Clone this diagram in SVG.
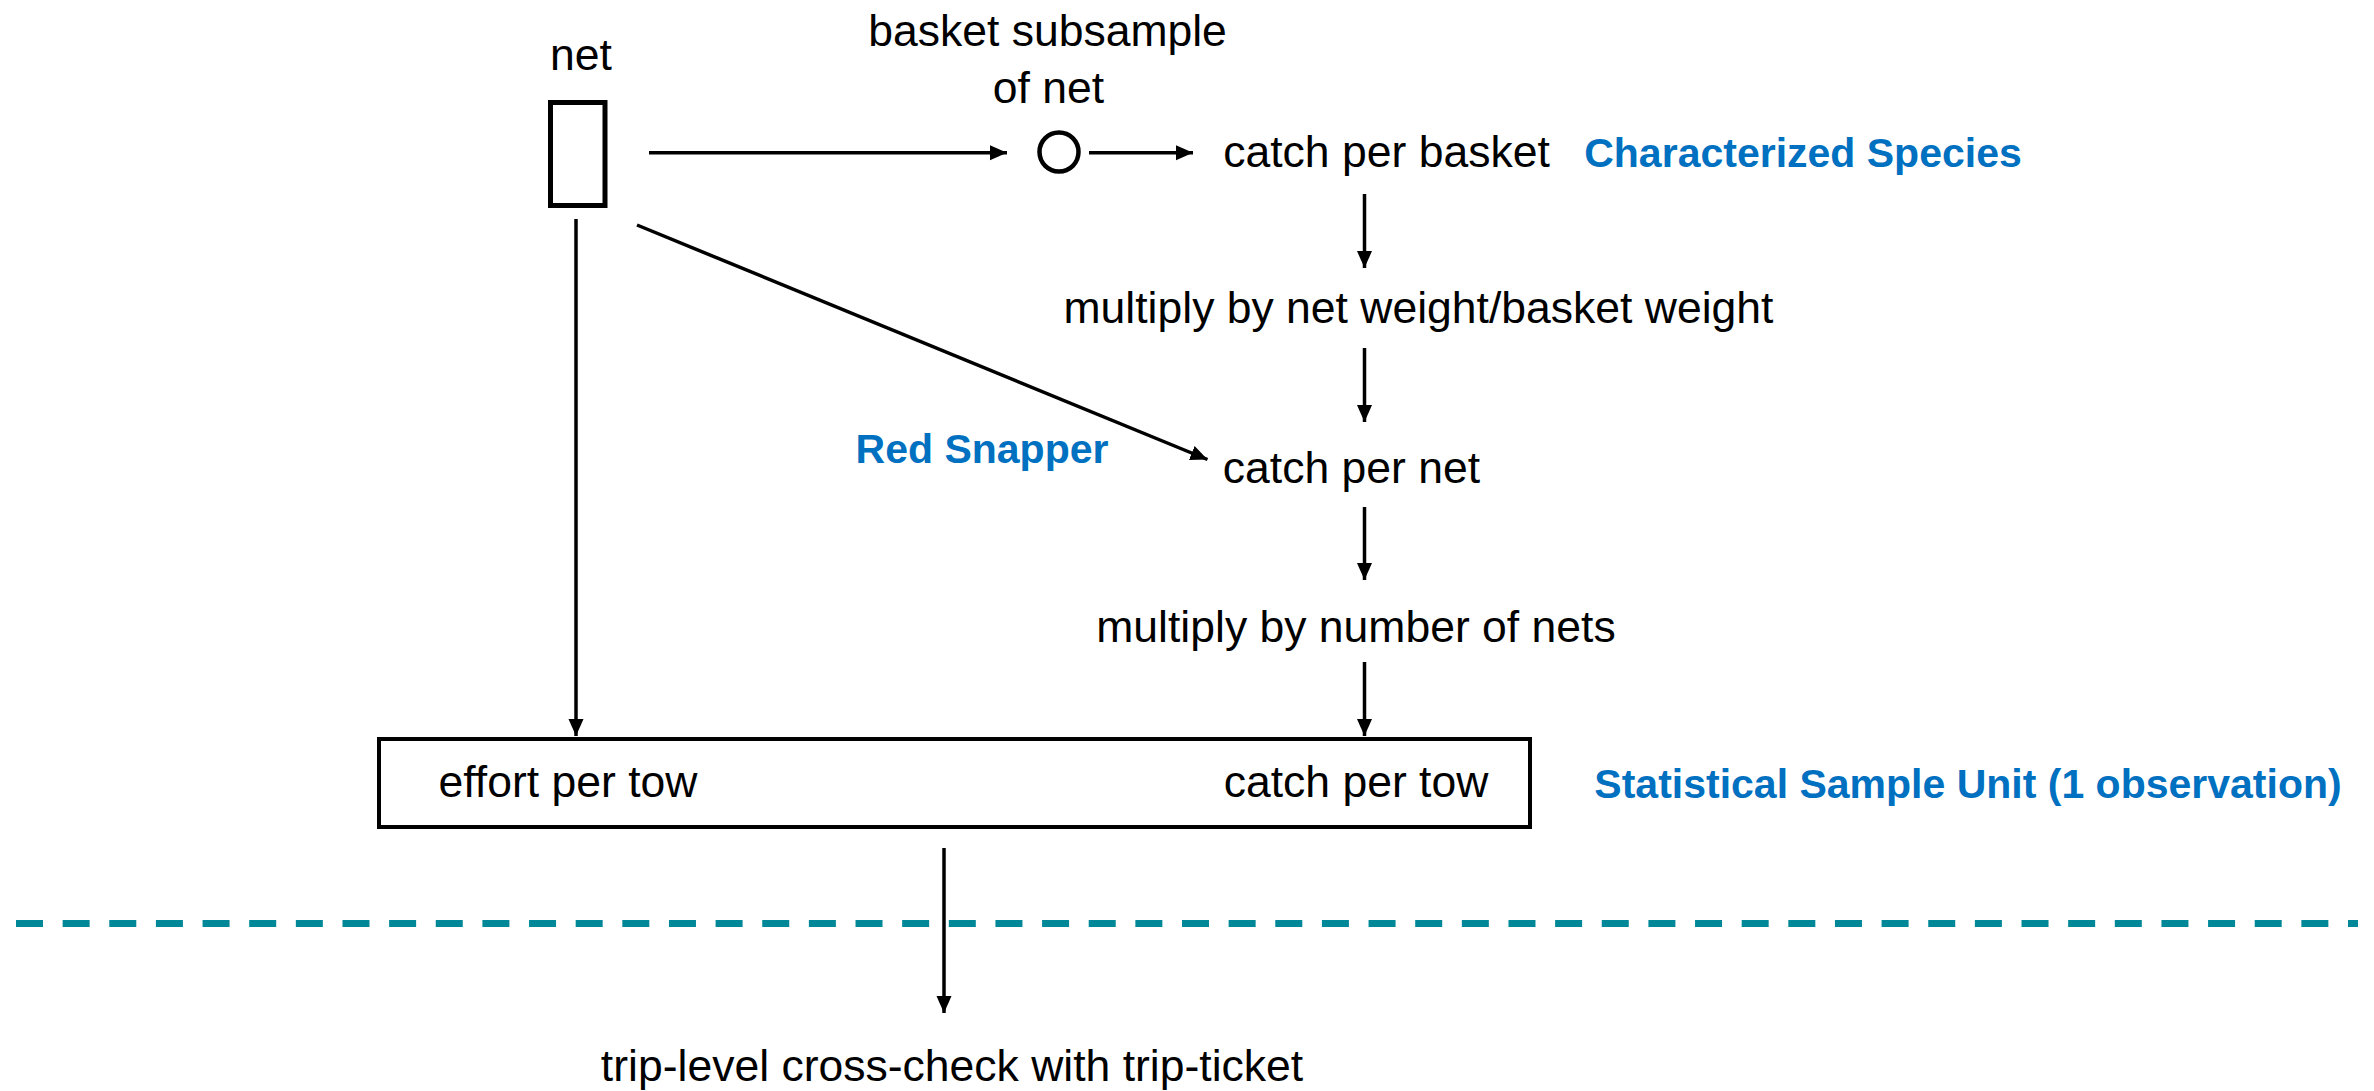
<svg xmlns="http://www.w3.org/2000/svg" width="2374" height="1091" viewBox="0 0 2374 1091">
<style>
.t{font-family:"Liberation Sans",Arial,sans-serif;font-size:44.5px;fill:#000;text-anchor:middle}
.b{font-family:"Liberation Sans",Arial,sans-serif;font-size:41px;font-weight:bold;fill:#0070C0;text-anchor:middle}
.c{stroke:#000;stroke-width:3.5;fill:none;marker-end:url(#ah)}
</style>
<defs>
<marker id="ah" markerUnits="userSpaceOnUse" markerWidth="18" markerHeight="16" refX="17" refY="7.5" orient="auto" viewBox="0 0 18 15">
<path d="M0,0 L17,7.5 L0,15 z" fill="#000"/>
</marker>
</defs>
<rect width="2374" height="1091" fill="#fff"/>
<g id="labels">
<text class="b" x="1803" y="167">Characterized Species</text>
<text class="b" x="982" y="463">Red Snapper</text>
<text class="b" x="1968" y="798">Statistical Sample Unit (1 observation)</text>
</g>
<g id="net">
<text class="t" x="581" y="70">net</text>
<rect x="550.5" y="102.5" width="54.5" height="103" fill="none" stroke="#000" stroke-width="5"/>
</g>
<g id="basket">
<text class="t" x="1047.5" y="46">basket subsample</text>
<text class="t" x="1048.5" y="103">of net</text>
<circle cx="1059" cy="152" r="19.5" fill="none" stroke="#000" stroke-width="4.5"/>
</g>
<g id="catch-per-basket"><text class="t" x="1386.5" y="167">catch per basket</text></g>
<g id="multiply-weight"><text class="t" x="1418.5" y="323">multiply by net weight/basket weight</text></g>
<g id="catch-per-net"><text class="t" x="1351.5" y="483">catch per net</text></g>
<g id="multiply-nets"><text class="t" x="1356" y="642">multiply by number of nets</text></g>
<g id="sample-unit">
<rect x="379" y="739" width="1151" height="88" fill="none" stroke="#000" stroke-width="4"/>
<text class="t" x="568" y="797">effort per tow</text>
<text class="t" x="1356" y="797">catch per tow</text>
</g>
<g id="trip-check"><text class="t" x="952" y="1081">trip-level cross-check with trip-ticket</text></g>
<g id="connectors">
<line class="c" x1="649" y1="152.7" x2="1007" y2="152.7"/>
<line class="c" x1="1089" y1="152.7" x2="1193" y2="152.7"/>
<line class="c" x1="576" y1="219" x2="576" y2="736"/>
<line class="c" x1="637" y1="225" x2="1207.5" y2="459.5"/>
<line class="c" x1="1364.5" y1="194" x2="1364.5" y2="268"/>
<line class="c" x1="1364.5" y1="348" x2="1364.5" y2="422"/>
<line class="c" x1="1364.5" y1="507" x2="1364.5" y2="580"/>
<line class="c" x1="1364.5" y1="662" x2="1364.5" y2="736"/>
<line class="c" x1="944" y1="848" x2="944" y2="1013"/>
</g>
<line id="divider" x1="16" y1="923.5" x2="2358" y2="923.5" stroke="#008898" stroke-width="7" stroke-dasharray="27 19.64"/>
</svg>
